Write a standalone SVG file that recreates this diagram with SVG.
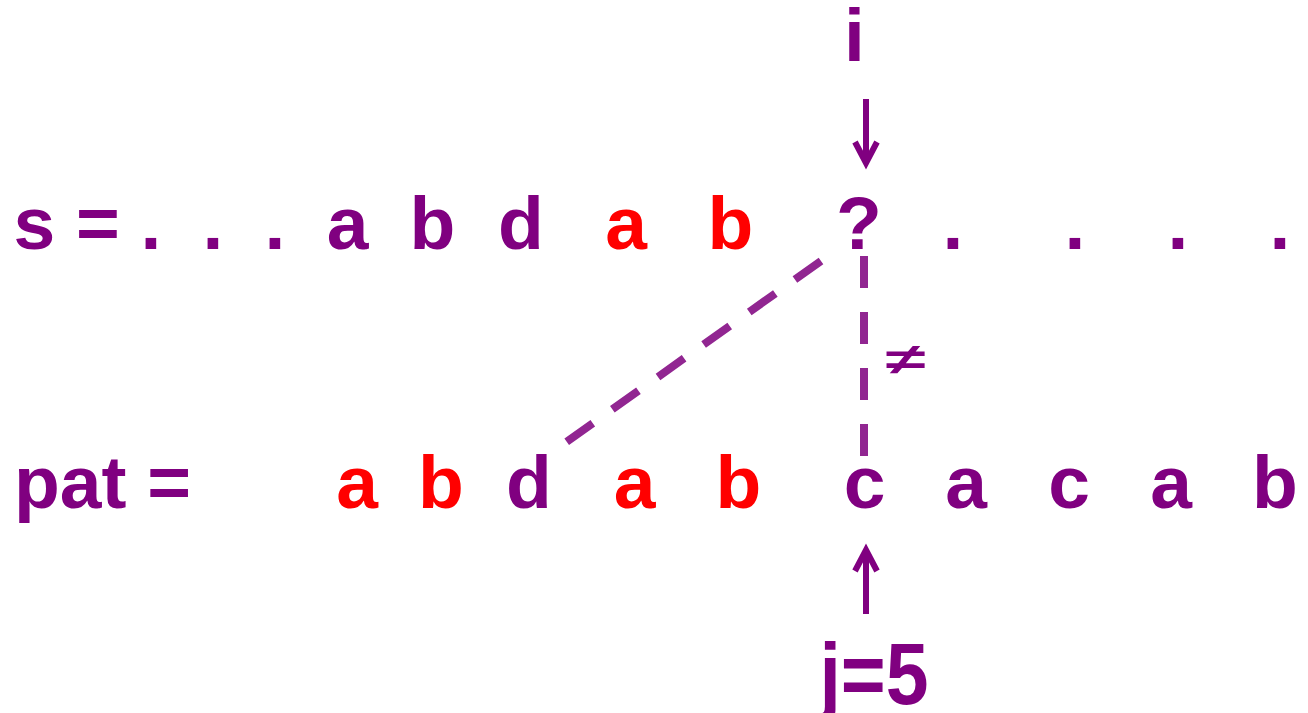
<svg xmlns="http://www.w3.org/2000/svg" width="1308" height="713" viewBox="0 0 1308 713">
<style>
text{font-family:"Liberation Sans",Arial,sans-serif;font-weight:bold;font-size:75px;fill:#800080;text-anchor:middle}
text.r{fill:#FF0000}
text.ne{font-size:43px}
.dash{stroke:#912691;stroke-width:8;stroke-dasharray:32 24;fill:none}
.arr{stroke:#800080;stroke-width:6;fill:none;stroke-linejoin:miter}
</style>
<rect width="1308" height="713" fill="#fff"/>
<g id="connectors">
<line class="dash" x1="821" y1="261" x2="565" y2="443"/>
<line class="dash" x1="864" y1="256" x2="864" y2="456"/>
<path class="arr" d="M866,99V163M855,142L866,163L877,142"/>
<path class="arr" d="M866,614V550M855,571L866,550L877,571"/>
</g>
<g id="label-i"><text x="854.5" y="61">i</text></g>
<g id="row-s">
<text x="13.5" y="249" style="text-anchor:start">s =</text>
<text x="151" y="249">.</text>
<text x="213" y="249">.</text>
<text x="275" y="249">.</text>
<text x="347.5" y="249">a</text>
<text x="432.5" y="249">b</text>
<text x="521" y="249">d</text>
<text class="r" x="626" y="249">a</text>
<text class="r" x="730.5" y="249">b</text>
<text x="859" y="249">?</text>
<text x="953" y="249">.</text>
<text x="1075" y="249">.</text>
<text x="1178" y="249">.</text>
<text x="1280" y="249">.</text>
</g>
<g id="label-ne"><text class="ne" transform="translate(905.5,374) scale(1.7,1)">≠</text></g>
<g id="row-pat">
<text x="14" y="508" style="text-anchor:start">pat =</text>
<text class="r" x="357" y="508">a</text>
<text class="r" x="441" y="508">b</text>
<text x="529" y="508">d</text>
<text class="r" x="634.5" y="508">a</text>
<text class="r" x="738.5" y="508">b</text>
<text x="864.5" y="508">c</text>
<text x="966" y="508">a</text>
<text x="1069" y="508">c</text>
<text x="1171" y="508">a</text>
<text x="1275" y="508">b</text>
</g>
<g id="label-j"><text style="font-size:77px" transform="translate(874,704) scale(1,1.12)">j=5</text></g>
</svg>
